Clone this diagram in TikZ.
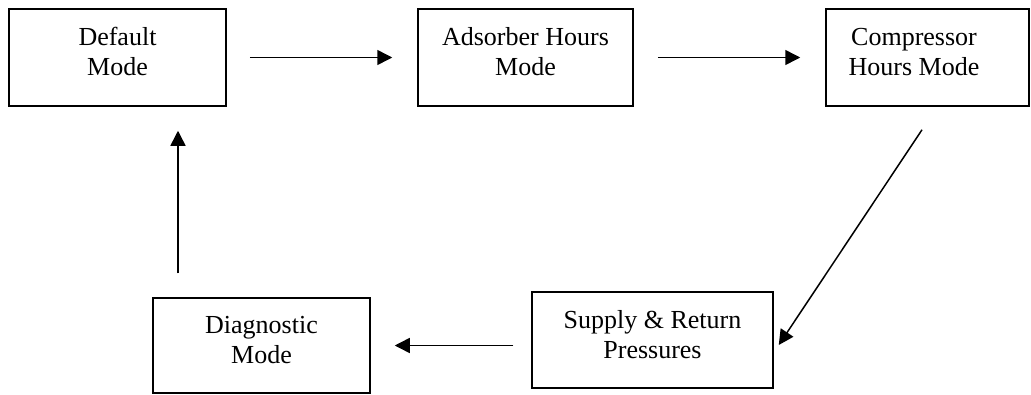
\documentclass[tikz,border=0pt]{standalone}
\usepackage{fontspec}
\setmainfont{Liberation Serif}
\usetikzlibrary{arrows.meta,calc}
\newcommand{\twolines}[2]{\rule{0pt}{18pt}#1\\#2\rule[-12pt]{0pt}{12pt}}
\tikzset{
  modebox/.style={draw, line width=1.5pt, inner sep=0pt, align=center,
    font=\fontsize{26}{30}\selectfont},
  arr/.style={line width=1.5pt, -{Triangle[length=15pt,width=15pt]}}
}
\begin{document}
\begin{tikzpicture}[x=1pt,y=-1pt]
\useasboundingbox (0,0) rectangle (1031,394);
\node[modebox, minimum width=217pt, minimum height=97pt] (def) at (117.5,57.5) {\twolines{Default}{Mode}};
\node[modebox, minimum width=215pt, minimum height=97pt] (ads) at (525.5,57.5) {\twolines{Adsorber Hours}{Mode}};
\node[modebox, minimum width=203pt, minimum height=97pt] (cmp) at (927.5,57.5) {\twolines{Compressor\hspace*{27pt}}{Hours Mode\hspace*{27pt}}};
\node[modebox, minimum width=241pt, minimum height=96pt] (sup) at (652.5,340) {\twolines{Supply \& Return}{Pressures}};
\node[modebox, minimum width=217pt, minimum height=95pt] (dia) at (261.5,345.5) {\twolines{Diagnostic}{Mode}};
\coordinate (upx) at (178,0);
\draw[arr, shorten <=23pt, shorten >=25pt] (def.east) -- (ads.west);
\draw[arr, shorten <=24pt, shorten >=25pt] (ads.east) -- (cmp.west);
\draw[arr] ($(cmp.south)+(-5.5,23)$) -- ($(sup.east)+(5,5)$);
\draw[arr, shorten <=18pt, shorten >=24pt] (sup.west |- dia.east) -- (dia.east);
\draw[arr, shorten <=24pt, shorten >=24pt] (dia.north -| upx) -- (def.south -| upx);
\end{tikzpicture}
\end{document}
